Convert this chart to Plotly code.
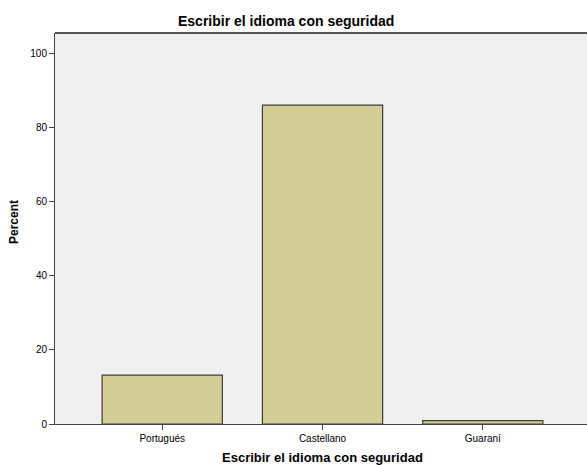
import plotly.graph_objects as go

categories = ["Portugués", "Castellano", "Guaraní"]
percent = [13.2, 86.1, 0.9]
y_ticks = [0, 20, 40, 60, 80, 100]

W, H = 587, 465
PL, PT, PR, PB = 55, 33, 587, 424   # plot area in page pixels
L, T, R, B = PL, PT, W - PR, H - PB

fig = go.Figure()
fig.add_trace(go.Bar(
    x=[0, 1, 2], y=percent, width=0.75,
    marker=dict(color="#D3CE96", line=dict(color="#3C3C3C", width=1.2)),
    hoverinfo="skip",
))

fig.update_layout(
    width=W, height=H,
    margin=dict(l=L, r=R, t=T, b=B, autoexpand=False),
    paper_bgcolor="white", plot_bgcolor="#F0F0F0",
    showlegend=False,
    font=dict(family="Liberation Sans, Arial", color="black"),
)
fig.update_xaxes(
    range=[-0.669, 2.65], tickmode="array", tickvals=[0, 1, 2], ticktext=categories,
    ticks="outside", ticklen=5, tickcolor="#444", tickfont=dict(size=10),
    showline=True, linecolor="#444", linewidth=1, showgrid=False, zeroline=False,
    automargin=False,
)
fig.update_yaxes(
    range=[0, 105.6], tickmode="array", tickvals=y_ticks,
    ticks="outside", ticklen=5, tickcolor="#444", tickfont=dict(size=10),
    showline=True, linecolor="#444", linewidth=1, showgrid=False, zeroline=False,
    automargin=False,
)
# top border of the plot frame
fig.add_shape(type="line", xref="paper", yref="paper", x0=0, x1=1, y0=1, y1=1,
              line=dict(color="#555", width=2))

def px(x):
    return (x - L) / (W - L - R)

def py(y):
    return (H - B - y) / (H - T - B)

fig.add_annotation(text="<b>Escribir el idioma con seguridad</b>", xref="paper", yref="paper",
                   x=px(286), y=py(21), xanchor="center", yanchor="middle",
                   showarrow=False, font=dict(size=14))
fig.add_annotation(text="<b>Escribir el idioma con seguridad</b>", xref="paper", yref="paper",
                   x=px(322), y=py(457), xanchor="center", yanchor="middle",
                   showarrow=False, font=dict(size=13))
fig.add_annotation(text="<b>Percent</b>", xref="paper", yref="paper",
                   x=px(14), y=py(222), xanchor="center", yanchor="middle",
                   showarrow=False, textangle=-90, font=dict(size=12))

fig.write_html("out.html", config={"displayModeBar": False},
               post_script="document.body.style.margin='0';document.body.style.overflow='hidden';")
